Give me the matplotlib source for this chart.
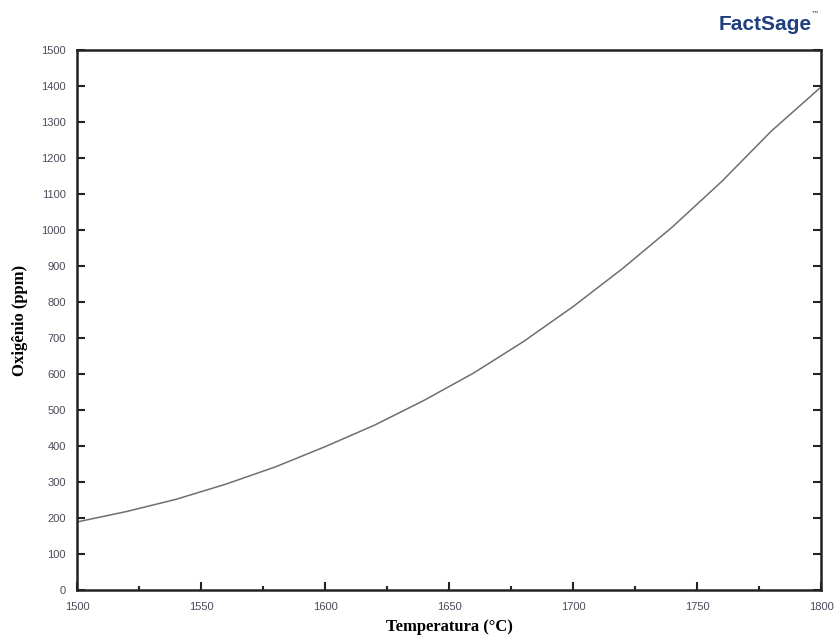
import numpy as np
import matplotlib.pyplot as plt
from matplotlib.ticker import MultipleLocator

temperatura = [1500, 1520, 1540, 1560, 1580, 1600, 1620, 1640, 1660, 1680,
               1700, 1720, 1740, 1760, 1780, 1800]
oxigenio = [189, 218, 252, 294, 342, 398, 458, 527, 603, 690,
            787, 893, 1008, 1135, 1275, 1397]

fig = plt.figure(figsize=(8.34, 6.37), dpi=100)
ax = fig.add_axes([77 / 834, 47 / 637, 744 / 834, 540 / 637])

ax.plot(temperatura, oxigenio, color="#6f6f6f", lw=1.1)

ax.set_xlim(1500, 1800)
ax.set_ylim(0, 1500)
ax.xaxis.set_major_locator(MultipleLocator(50))
ax.xaxis.set_minor_locator(MultipleLocator(25))
ax.yaxis.set_major_locator(MultipleLocator(100))

for s in ax.spines.values():
    s.set_linewidth(1.8)
    s.set_color("#222222")
ax.tick_params(which="both", direction="in", top=False, right=True,
               width=1.5, color="#222222", labelsize=8, labelcolor="#4a4a5a")
ax.tick_params(axis="x", which="major", length=6, pad=9)
ax.tick_params(axis="y", which="major", length=6, pad=8)
ax.tick_params(which="minor", length=3)
for lab in ax.get_xticklabels() + ax.get_yticklabels():
    lab.set_family("Liberation Sans")

ax.set_xlabel("Temperatura (°C)", family="Liberation Serif", fontweight="bold",
              fontsize=12, va="center")
ax.set_ylabel("Oxigênio (ppm)", family="Liberation Serif", fontweight="bold",
              fontsize=12, va="center")
ax.xaxis.set_label_coords(0.5, -0.068)
ax.yaxis.set_label_coords(-0.076, 0.5)

# logo
fig.text(0.918, 0.962, "FactSage", ha="center", va="center", fontsize=15,
         fontweight="bold", color="#1f3f7f", family="Liberation Sans")
fig.text(0.972, 0.978, "™", ha="left", va="center", fontsize=6, color="#1f3f7f")

fig.savefig("out.png", dpi=100)
